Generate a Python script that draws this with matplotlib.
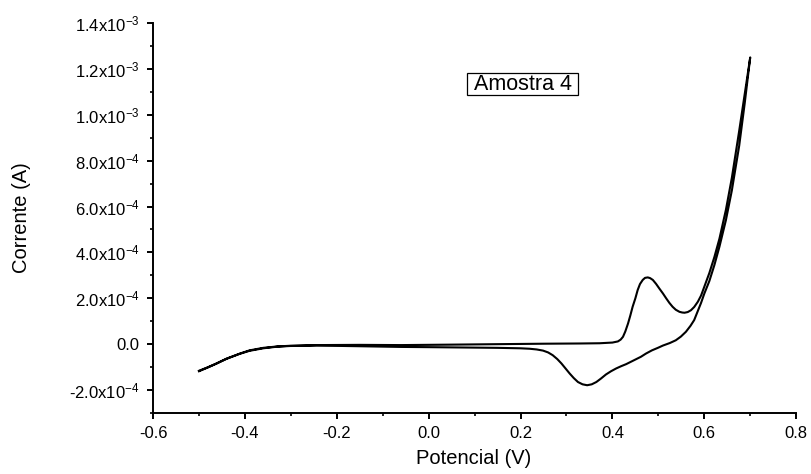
import matplotlib
matplotlib.use("Agg")
import matplotlib.pyplot as plt
from matplotlib.ticker import MultipleLocator, FixedLocator, FixedFormatter
from matplotlib.patches import Rectangle

plt.rcParams['font.family'] = ['Liberation Sans', 'DejaVu Sans']
plt.rcParams['mathtext.default'] = 'regular'

# Forward (anodic) scan: potential in V, current in units of 1e-4 A
pot_fwd = [-0.500, -0.480, -0.462, -0.440, -0.411, -0.390, -0.360, -0.330, -0.302,
           -0.244, -0.150, -0.060, 0.050, 0.150, 0.250, 0.330, 0.372, 0.400,
           0.412, 0.418, 0.423, 0.428, 0.434, 0.439, 0.444, 0.450, 0.455, 0.460,
           0.466, 0.471, 0.477, 0.482, 0.488, 0.495, 0.502, 0.510, 0.517, 0.524,
           0.531, 0.538, 0.546, 0.552, 0.557, 0.564, 0.571, 0.578, 0.586, 0.593,
           0.600, 0.611, 0.622, 0.633, 0.647, 0.660, 0.676, 0.688, 0.700]
cur_fwd = [-1.16, -1.00, -0.84, -0.63, -0.41, -0.27, -0.16, -0.10, -0.07,
           -0.04, -0.03, -0.04, -0.02, 0.00, 0.02, 0.03, 0.04, 0.07,
           0.12, 0.20, 0.32, 0.55, 0.90, 1.25, 1.63, 2.00, 2.36, 2.62,
           2.80, 2.89, 2.91, 2.88, 2.80, 2.63, 2.43, 2.21, 2.00, 1.80,
           1.63, 1.50, 1.41, 1.38, 1.37, 1.40, 1.48, 1.62, 1.85, 2.12,
           2.50, 3.10, 3.80, 4.60, 5.85, 7.25, 9.30, 10.90, 12.50]

# Reverse (cathodic) scan back to the starting potential
pot_rev = [0.700, 0.688, 0.676, 0.660, 0.647, 0.633, 0.622, 0.611, 0.600, 0.593,
           0.585, 0.578, 0.570, 0.560, 0.549, 0.538, 0.525, 0.510, 0.499, 0.486,
           0.473, 0.462, 0.451, 0.440, 0.430, 0.419, 0.408, 0.397, 0.386, 0.375,
           0.365, 0.355, 0.345, 0.335, 0.325, 0.316, 0.307, 0.298, 0.289, 0.280,
           0.270, 0.260, 0.249, 0.235, 0.220, 0.200, 0.150, 0.100, 0.050, 0.000,
           -0.060, -0.150, -0.244, -0.302, -0.330, -0.360, -0.390, -0.411, -0.440,
           -0.462, -0.480, -0.500]
cur_rev = [12.50, 10.50, 8.65, 6.70, 5.40, 4.25, 3.45, 2.75, 2.20, 1.80,
           1.40, 1.05, 0.80, 0.54, 0.33, 0.17, 0.05, -0.06, -0.16, -0.27,
           -0.41, -0.55, -0.66, -0.77, -0.87, -0.96, -1.06, -1.18, -1.32, -1.50,
           -1.65, -1.75, -1.79, -1.75, -1.65, -1.48, -1.28, -1.06, -0.84, -0.65,
           -0.48, -0.36, -0.28, -0.23, -0.20, -0.18, -0.16, -0.15, -0.14, -0.13,
           -0.12, -0.09, -0.06, -0.08, -0.11, -0.18, -0.29, -0.42, -0.64,
           -0.85, -1.01, -1.18]

y_ticks = [-2e-4, 0.0, 2e-4, 4e-4, 6e-4, 8e-4, 1.0e-3, 1.2e-3, 1.4e-3]
y_tick_labels = [r'-2.0x10$^{-4}$', '0.0', r'2.0x10$^{-4}$', r'4.0x10$^{-4}$',
                 r'6.0x10$^{-4}$', r'8.0x10$^{-4}$', r'1.0x10$^{-3}$',
                 r'1.2x10$^{-3}$', r'1.4x10$^{-3}$']
x_ticks = [-0.6, -0.4, -0.2, 0.0, 0.2, 0.4, 0.6, 0.8]
x_tick_labels = ['-0.6', '-0.4', '-0.2', '0.0', '0.2', '0.4', '0.6', '0.8']

scale = 1e-4
potential = pot_fwd + pot_rev
current = [c * scale for c in cur_fwd + cur_rev]

fig = plt.figure(figsize=(8.11, 4.74), dpi=100)
ax = fig.add_axes([0.1887, 0.1287, 0.7930, 0.8228])

ax.plot(potential, current, color='black', lw=1.5, solid_joinstyle='round')

ax.set_xlim(-0.6, 0.8)
ax.set_ylim(-3e-4, 1.4e-3)

for side in ('top', 'right'):
    ax.spines[side].set_visible(False)
for side in ('left', 'bottom'):
    ax.spines[side].set_linewidth(1.4)

ax.xaxis.set_major_locator(FixedLocator(x_ticks))
ax.xaxis.set_major_formatter(FixedFormatter(x_tick_labels))
ax.xaxis.set_minor_locator(MultipleLocator(0.1))
ax.yaxis.set_major_locator(FixedLocator(y_ticks))
ax.yaxis.set_major_formatter(FixedFormatter(y_tick_labels))
ax.yaxis.set_minor_locator(MultipleLocator(1e-4))

ax.tick_params(which='major', direction='out', length=4.5, width=1.4,
               labelsize=12, pad=5)
ax.tick_params(which='minor', direction='out', length=2.5, width=1.2)

fig.text(474 / 811, 1 - 459 / 474, 'Potencial (V)', ha='center', va='center',
         fontsize=14.5)
fig.text(22 / 811, 1 - 218 / 474, 'Corrente (A)', ha='center', va='center',
         rotation=90, fontsize=14.5)

ax.add_patch(Rectangle((0.488, 0.815), 0.173, 0.057, transform=ax.transAxes,
                       fill=False, edgecolor='black', lw=0.9))
ax.text(0.5745, 0.8435, 'Amostra 4', transform=ax.transAxes, ha='center',
        va='center', fontsize=15.5)

fig.savefig('out.png', dpi=100)
